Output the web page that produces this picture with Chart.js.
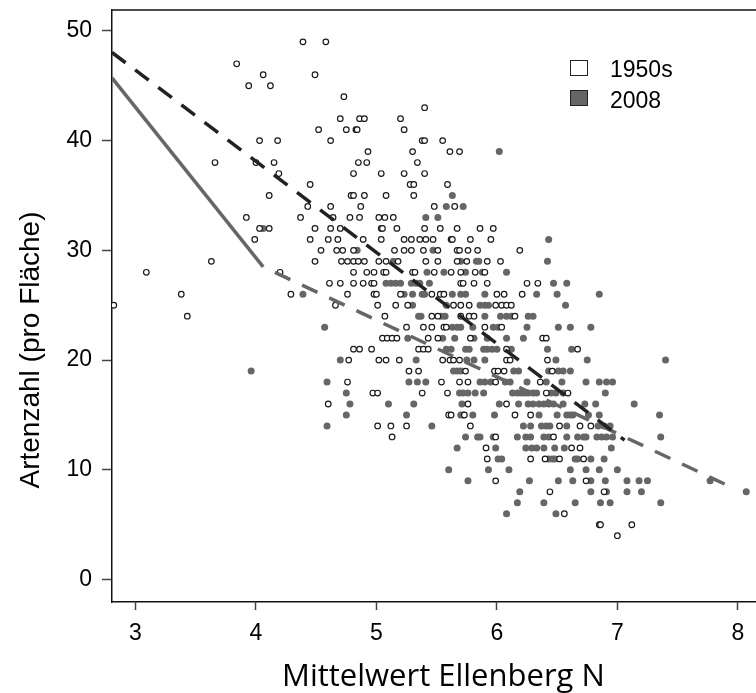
<!DOCTYPE html>
<html>
<head>
<meta charset="utf-8">
<script src="https://cdn.jsdelivr.net/npm/chart.js@4.4.1/dist/chart.umd.min.js"></script>
<style>
  html, body { margin: 0; padding: 0; background: #fff; }
  #wrap { width: 756px; height: 693px; overflow: hidden; }
  canvas { display: block; }
</style>
</head>
<body>
<div id="wrap"><canvas id="myChart" width="780" height="693"></canvas></div>
<script>
// species counts per plot (y) and mean Ellenberg N (x), one row per count
const oldRowsY = [49, 47, 46, 45, 44, 43, 42, 41, 40, 39, 38, 37, 36, 35, 34, 33, 32, 31, 30, 29, 28, 27, 26, 25, 24, 23, 22, 21, 20, 19, 18, 17, 16, 15, 14, 13, 12, 11, 9, 8, 6, 5, 4];
const oldRowsX = [
  [4.39, 4.58], [3.84], [4.06, 4.49], [3.94, 4.12], [4.73], [5.40],
  [4.70, 4.86, 4.90, 5.20],
  [4.52, 4.75, 4.83, 4.84, 5.23],
  [4.03, 4.18, 4.62, 5.38, 5.40, 5.55],
  [4.93, 5.30, 5.61, 5.69],
  [3.66, 4.00, 4.15, 4.85, 4.92, 5.34],
  [4.19, 4.81, 5.04, 5.23, 5.40],
  [4.45, 5.28, 5.31, 5.59],
  [4.11, 4.79, 4.81, 4.90, 5.08, 5.31],
  [4.43, 4.62, 4.87, 5.48, 5.65],
  [3.92, 4.37, 4.64, 4.78, 4.86, 5.02, 5.07, 5.14],
  [4.03, 4.11, 4.49, 4.62, 4.70, 5.04, 5.05, 5.17, 5.40, 5.53, 5.67, 5.86, 5.97],
  [3.99, 4.45, 4.60, 4.68, 4.89, 5.04, 5.23, 5.29, 5.36, 5.41, 5.47, 5.62, 5.63, 5.78, 5.95],
  [4.54, 4.67, 4.72, 4.81, 5.15, 5.23, 5.29, 5.39, 5.51, 5.67, 5.69, 5.76, 5.84, 6.19],
  [3.63, 4.49, 4.71, 4.76, 4.81, 4.85, 4.90, 5.02, 5.08, 5.18, 5.41, 5.51, 5.67, 5.75, 5.92, 6.03],
  [3.09, 4.20, 4.81, 4.92, 4.98, 5.06, 5.08, 5.30, 5.32, 5.48, 5.62, 5.70, 5.82, 5.90],
  [4.61, 4.70, 4.81, 4.89, 4.96, 4.98, 5.70, 5.72, 5.81, 5.92, 6.25, 6.34],
  [3.38, 4.29, 4.76, 4.98, 5.00, 5.20, 5.46, 5.53, 5.56, 6.00, 6.06, 6.21],
  [2.82, 4.66, 5.01, 5.16, 5.26, 5.64, 5.70, 5.77, 5.99, 6.04, 6.08, 6.12],
  [3.43, 5.07, 5.46, 5.51, 5.70, 5.77, 5.81, 6.15],
  [5.25, 5.39, 5.46, 5.56, 5.58, 5.90, 6.04],
  [5.05, 5.09, 5.13, 5.17, 5.43, 5.51, 5.78, 6.38, 6.41],
  [4.81, 4.86, 4.96, 5.35, 5.39, 5.43, 6.08, 6.67],
  [4.77, 5.02, 5.08, 5.19, 5.55, 5.61, 5.64, 5.69, 6.08, 6.11, 6.42],
  [5.27, 5.35, 5.74, 5.98, 6.01, 6.06, 6.46],
  [4.76, 5.54, 5.69, 5.76, 5.99, 6.36],
  [4.97, 5.01, 5.38, 5.59, 6.41, 6.59],
  [4.60, 5.76, 6.08],
  [5.60, 5.62, 5.73, 6.15, 6.28],
  [5.01, 5.12, 5.25, 5.78, 6.52, 6.69, 6.78],
  [5.13, 5.99, 6.47],
  [5.91, 6.62, 6.69],
  [5.92, 6.28, 6.40, 6.52, 6.72],
  [5.99, 6.74],
  [6.44, 6.89],
  [6.56],
  [6.85, 6.86, 7.12],
  [7.00]
];

const newRowsY = [39, 35, 34, 33, 32, 31, 30, 29, 28, 27, 26, 25, 24, 23, 22, 21, 20, 19, 18, 17, 16, 15, 14, 13, 12, 11, 10, 9, 8, 7, 6];
const newRowsX = [
  [6.02], [5.63], [5.58, 5.72], [5.41, 5.51], [4.06], [6.43], [4.84, 5.47],
  [5.14, 5.70, 5.83, 5.85, 6.42],
  [5.42, 5.56, 5.74, 5.88, 6.08],
  [5.08, 5.12, 5.16, 5.20, 5.29, 5.33, 5.36, 5.44, 6.47, 6.58],
  [4.39, 5.23, 5.30, 5.38, 5.40, 5.63, 5.70, 5.74, 5.90, 6.33, 6.50, 6.85],
  [5.30, 5.58, 5.86, 5.90, 5.93, 6.57],
  [5.35, 5.37, 5.54, 5.57, 5.90, 6.03, 6.08, 6.12, 6.26, 6.30],
  [4.57, 5.63, 5.67, 5.70, 5.80, 5.97, 6.01, 6.25, 6.51, 6.61, 6.78],
  [5.26, 5.55, 5.65, 5.81, 5.92, 6.08, 6.22],
  [5.58, 5.62, 5.74, 5.77, 5.89, 5.92, 5.96, 6.00, 6.12, 6.42, 6.62],
  [4.70, 5.33, 5.75, 5.81, 5.90, 6.49, 6.75, 7.40],
  [3.96, 5.64, 5.67, 5.70, 6.14, 6.18, 6.43, 6.51, 6.55, 6.61],
  [4.59, 5.27, 5.34, 5.41, 5.86, 5.90, 5.95, 6.07, 6.11, 6.25, 6.41, 6.54, 6.74, 6.85, 6.91, 6.96],
  [4.75, 5.69, 5.72, 5.76, 5.82, 5.89, 6.13, 6.17, 6.20, 6.23, 6.26, 6.30, 6.33, 6.45, 6.49, 6.55, 6.90],
  [4.78, 5.10, 5.31, 5.71, 6.02, 6.18, 6.26, 6.30, 6.35, 6.39, 6.43, 6.47, 6.55, 6.73, 6.82, 7.14],
  [4.75, 5.25, 5.70, 5.72, 5.80, 5.98, 6.35, 6.50, 6.58, 6.61, 6.63, 6.76, 6.85, 7.35],
  [4.59, 5.46, 6.22, 6.28, 6.37, 6.41, 6.44, 6.58, 6.84, 6.89, 6.94],
  [5.74, 5.84, 5.86, 5.97, 6.17, 6.24, 6.28, 6.39, 6.43, 6.58, 6.67, 6.72, 6.74, 6.83, 6.87, 6.91, 6.96, 7.36],
  [5.67, 5.99, 6.24, 6.29, 6.33, 6.39, 6.48, 6.56, 6.95],
  [6.01, 6.04, 6.43, 6.46, 6.48, 6.65, 6.67, 6.78, 6.89],
  [5.60, 5.93, 6.10, 6.61, 6.74, 6.85, 7.00],
  [5.76, 6.27, 6.51, 6.63, 6.78, 6.90, 7.08, 7.18, 7.25, 7.77],
  [6.19, 6.78, 6.91, 7.08, 7.20, 8.07],
  [6.17, 6.39, 6.65, 6.86, 6.94, 7.36],
  [6.08, 6.49]
];

// fitted lines
const fitOldX = [2.805, 7.06];
const fitOldY = [48.03, 12.7];
const fitNewSolidX = [2.805, 4.06];
const fitNewSolidY = [45.72, 28.5];
const fitNewDashX = [4.06, 7.95];
const fitNewDashY = [28.5, 8.4];

const xTicks = [3, 4, 5, 6, 7, 8];
const yTicks = [0, 10, 20, 30, 40, 50];
const seriesNames = ['1950s', '2008'];

function rowsToPoints(rowsY, rowsX) {
  const pts = [];
  rowsY.forEach((y, i) => rowsX[i].forEach(x => pts.push({x: x, y: y})));
  return pts;
}
function pairs(xs, ys) {
  return xs.map((x, i) => ({x: x, y: ys[i]}));
}

const extras = {
  id: 'extras',
  afterDraw(chart) {
    const {ctx, chartArea: a} = chart;
    ctx.save();
    // top frame line
    ctx.strokeStyle = '#111';
    ctx.lineWidth = 1.5;
    ctx.beginPath();
    ctx.moveTo(a.left, a.top);
    ctx.lineTo(a.right, a.top);
    ctx.stroke();
    // legend
    ctx.lineWidth = 1;
    ctx.strokeStyle = '#222';
    ctx.fillStyle = '#fff';
    ctx.fillRect(570, 60, 17, 15);
    ctx.strokeRect(570.5, 60.5, 17, 15);
    ctx.fillStyle = '#666';
    ctx.fillRect(570, 90, 17, 15);
    ctx.strokeRect(570.5, 90.5, 17, 15);
    ctx.fillStyle = '#000';
    ctx.font = '23px "Liberation Sans", Arial, sans-serif';
    ctx.textAlign = 'left';
    ctx.textBaseline = 'alphabetic';
    ctx.fillText(seriesNames[0], 610, 77);
    ctx.fillText(seriesNames[1], 610, 108);
    // y axis title, centred on the whole figure height
    ctx.translate(31, 350);
    ctx.rotate(-Math.PI / 2);
    ctx.font = '28px "Liberation Sans", Arial, sans-serif';
    ctx.textAlign = 'center';
    ctx.textBaseline = 'middle';
    ctx.fillText('Artenzahl (pro Fläche)', 0, 0);
    ctx.restore();
  }
};

const tickFont = {family: '"Liberation Sans", Arial, sans-serif', size: 23};

const ctx = document.getElementById('myChart').getContext('2d');
const myChart = new Chart(ctx, {
  type: 'scatter',
  data: {
    datasets: [
      {
        label: 'fit 1950s',
        data: pairs(fitOldX, fitOldY),
        showLine: true,
        borderColor: '#222',
        borderWidth: 3.5,
        borderDash: [17, 12],
        pointRadius: 0,
        fill: false
      },
      {
        label: 'fit 2008 solid',
        data: pairs(fitNewSolidX, fitNewSolidY),
        showLine: true,
        borderColor: '#666',
        borderWidth: 3.5,
        pointRadius: 0,
        fill: false
      },
      {
        label: 'fit 2008 dashed',
        data: pairs(fitNewDashX, fitNewDashY),
        showLine: true,
        borderColor: '#666',
        borderWidth: 3.5,
        borderDash: [17, 13],
        borderDashOffset: 17,
        pointRadius: 0,
        fill: false
      },
      {
        label: seriesNames[0],
        data: rowsToPoints(oldRowsY, oldRowsX),
        pointStyle: 'circle',
        pointRadius: 2.8,
        borderWidth: 1.2,
        borderColor: '#1a1a1a',
        backgroundColor: '#fff'
      },
      {
        label: seriesNames[1],
        data: rowsToPoints(newRowsY, newRowsX),
        pointStyle: 'circle',
        pointRadius: 3.5,
        borderWidth: 0,
        backgroundColor: '#666'
      }
    ]
  },
  options: {
    responsive: false,
    animation: false,
    events: [],
    layout: {padding: {top: 10, right: 0, left: 0, bottom: 0}},
    plugins: {
      legend: {display: false},
      tooltip: {enabled: false}
    },
    scales: {
      x: {
        type: 'linear',
        min: 2.805,
        max: 8.307,
        afterFit: s => { s.height = 91; s.paddingLeft = 0; s.paddingRight = 0; },
        border: {display: true, color: '#111', width: 1.5},
        grid: {drawOnChartArea: false, drawTicks: true, tickLength: 8, tickColor: '#444', tickWidth: 1.5},
        afterBuildTicks: s => { s.ticks = xTicks.map(v => ({value: v})); },
        ticks: {stepSize: 1, includeBounds: false, color: '#000', font: tickFont, padding: 10, maxRotation: 0},
        title: {
          display: true,
          text: 'Mittelwert Ellenberg N',
          color: '#000',
          font: {family: '"Open Sans", sans-serif', size: 31, lineHeight: 1},
          padding: {top: 0, bottom: 0}
        }
      },
      y: {
        type: 'linear',
        min: -2.04,
        max: 51.9,
        afterFit: s => { s.width = 112; s.paddingTop = 0; s.paddingBottom = 0; },
        border: {display: true, color: '#111', width: 1.5},
        grid: {drawOnChartArea: false, drawTicks: true, tickLength: 10, tickColor: '#444', tickWidth: 1.5},
        afterBuildTicks: s => { s.ticks = yTicks.map(v => ({value: v})); },
        ticks: {stepSize: 10, includeBounds: false, color: '#000', font: tickFont, padding: 10}
      }
    }
  },
  plugins: [extras]
});
</script>
</body>
</html>
